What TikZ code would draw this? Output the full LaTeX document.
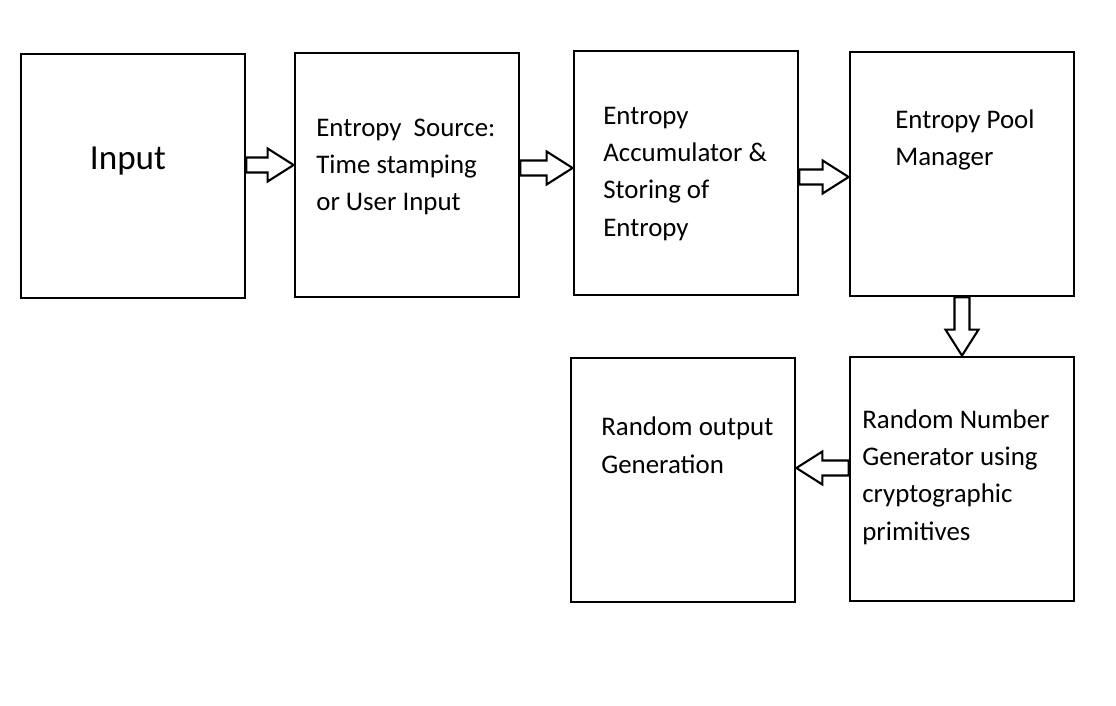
\documentclass[tikz,border=0pt]{standalone}
\usepackage{fontspec}
\setmainfont{Carlito}
\usepackage{tikz}
\usetikzlibrary{calc, positioning}

\begin{document}
\begin{tikzpicture}[
  x=0.02cm, y=-0.02cm,
  block/.style={
    rectangle,
    draw=black,
    line width=1.6pt,
    minimum width=4.48cm,
    minimum height=4.88cm
  },
  label/.style={
    anchor=base west,
    inner sep=0pt,
    align=left,
    font=\fontsize{15.3}{21.2}\selectfont
  },
  blockarrow/.style={
    draw=black,
    line width=1.2pt,
    fill=white,
    line join=miter,
    to path={
      ($(\tikztostart)!0.15cm!90:(\tikztotarget)$)
      -- ($($(\tikztotarget)!0.52cm!(\tikztostart)$)!0.15cm!90:(\tikztotarget)$)
      -- ($($(\tikztotarget)!0.52cm!(\tikztostart)$)!0.33cm!90:(\tikztotarget)$)
      -- (\tikztotarget)
      -- ($($(\tikztotarget)!0.52cm!(\tikztostart)$)!0.33cm!-90:(\tikztotarget)$)
      -- ($($(\tikztotarget)!0.52cm!(\tikztostart)$)!0.15cm!-90:(\tikztotarget)$)
      -- ($(\tikztostart)!0.15cm!-90:(\tikztotarget)$)
      -- cycle
    }
  }
]

\useasboundingbox (0,0) rectangle (1116,706);

% Top row
\node[block] (in) at (133,176) {};
\node[block] (src) at (407,175) {};
\node[block] (acc) at (686,173) {};
\node[block] (pool) at (962,174) {};

% Bottom row
\node[block] (rng) at (962,479) {};
\node[block] (out) at (683,480) {};

% Texts (placed at the baseline of their last line)
\node[anchor=base, inner sep=0pt, font=\fontsize{20}{24}\selectfont] (intxt) at (128,170) {Input};
\node[label] (srctxt) at (316,211) {Entropy\ \ Source:\\Time stamping\\or User Input};
\node[label] (acctxt) at (603,236) {Entropy\\Accumulator \&\\Storing of\\Entropy};
\node[label] (pooltxt) at (895,166) {Entropy Pool\\Manager};
\node[label] (rngtxt) at (862,540) {Random Number\\Generator using\\cryptographic\\primitives};
\node[label] (outtxt) at (601,473) {Random output\\Generation};

% Arrows
\coordinate (a1) at ([yshift=0.22cm]in.east);
\coordinate (a2) at ([yshift=0.14cm]src.east);
\coordinate (a3) at ([yshift=-0.08cm]acc.east);
\coordinate (a5) at ([yshift=0.22cm]rng.west);

\draw[blockarrow] (a1) to (a1 -| src.west);
\draw[blockarrow] (a2) to (a2 -| acc.west);
\draw[blockarrow] (a3) to (a3 -| pool.west);
\draw[blockarrow] (pool.south) to (rng.north);
\draw[blockarrow] (a5) to (a5 -| out.east);

\end{tikzpicture}
\end{document}
